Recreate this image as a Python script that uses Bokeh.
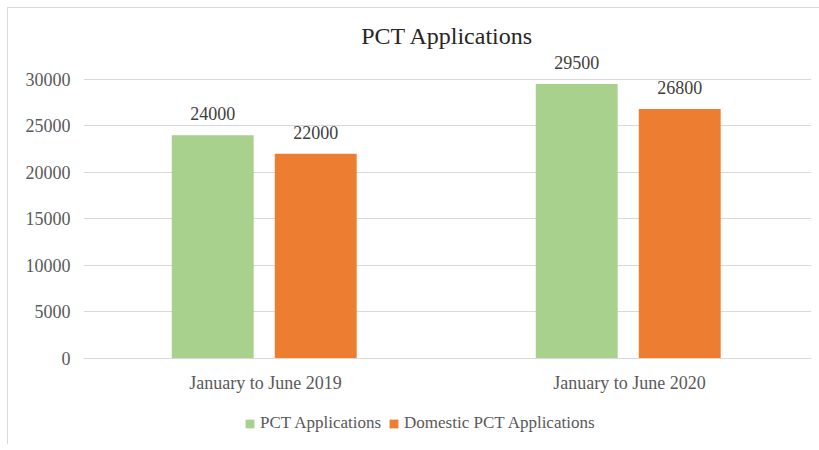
from bokeh.plotting import figure
from bokeh.layouts import column
from bokeh.models import ColumnDataSource, FactorRange, Range1d, LabelSet, Legend, LegendItem, SingleIntervalTicker
from bokeh.transform import dodge
from bokeh.embed import file_html
from bokeh.resources import INLINE

periods = ["January to June 2019", "January to June 2020"]
pct_applications = [24000, 29500]
domestic_pct_applications = [22000, 26800]
series_names = ["PCT Applications", "Domestic PCT Applications"]
series_colors = ["#a9d18e", "#ed7d31"]

FONT = "Liberation Serif"
LINE = "linear-gradient(#d9d9d9,#d9d9d9)"

src = ColumnDataSource(dict(
    period=periods,
    pct=pct_applications,
    dom=domestic_pct_applications,
    pct_lbl=[str(v) for v in pct_applications],
    dom_lbl=[str(v) for v in domestic_pct_applications],
))

p = figure(frame_width=728, frame_height=309, x_range=FactorRange(*periods, range_padding=0),
           y_range=Range1d(0, 33200), output_backend="svg", toolbar_location=None,
           min_border_left=83, min_border_right=8, min_border_top=49, min_border_bottom=42)
p.outline_line_color = None
p.border_fill_color = None
p.background_fill_color = None
p.styles = {"background": f"{LINE} 7px 7px / 1px 100% no-repeat, {LINE} 7px 7px / 100% 1px no-repeat, white"}

p.title.text = "PCT Applications"
p.title.text_font = FONT
p.title.text_font_size = "24px"
p.title.text_font_style = "normal"
p.title.text_color = "#262626"
p.title.align = "center"
p.title.standoff = 1

r1 = p.vbar(x=dodge("period", -0.145, range=p.x_range), top="pct", width=0.225, source=src,
            fill_color=series_colors[0], line_color=None)
r2 = p.vbar(x=dodge("period", 0.138, range=p.x_range), top="dom", width=0.225, source=src,
            fill_color=series_colors[1], line_color=None)

for col, lbl, off in [("pct", "pct_lbl", -0.145), ("dom", "dom_lbl", 0.138)]:
    p.add_layout(LabelSet(x=dodge("period", off, range=p.x_range), y=col, text=lbl, source=src,
                          text_align="center", text_baseline="bottom", y_offset=15,
                          text_font=FONT, text_font_size="18px", text_color="#404040"))

p.yaxis.ticker = SingleIntervalTicker(interval=5000)
p.yaxis.axis_line_color = None
p.yaxis.major_tick_line_color = None
p.yaxis.minor_tick_line_color = None
p.yaxis.major_label_text_font = FONT
p.yaxis.major_label_text_font_size = "18px"
p.yaxis.major_label_text_color = "#595959"
p.yaxis.major_label_standoff = 7

p.xaxis.axis_line_color = "#d9d9d9"
p.xaxis.major_tick_line_color = None
p.xaxis.major_label_text_font = FONT
p.xaxis.major_label_text_font_size = "18px"
p.xaxis.major_label_text_color = "#595959"
p.xaxis.major_label_standoff = 8

p.xgrid.grid_line_color = None
p.ygrid.grid_line_color = "#d9d9d9"
p.ygrid.grid_line_width = 1

# legend strip below the chart
lf = figure(width=819, height=44, output_backend="svg", toolbar_location=None,
            min_border_left=0, min_border_right=0, min_border_top=0, min_border_bottom=0,
            x_range=Range1d(0, 1), y_range=Range1d(0, 1))
lf.axis.visible = False
lf.grid.visible = False
lf.outline_line_color = None
lf.border_fill_color = None
lf.background_fill_color = None
lf.styles = {"background": f"{LINE} 7px 0px / 1px 100% no-repeat, white"}
# zero-height proxy bars that only provide the legend swatches
proxy = ColumnDataSource(dict(x=[0.5], top=[0]))
d1 = lf.vbar(x="x", top="top", width=0.01, source=proxy, fill_color=series_colors[0], line_color=None)
d2 = lf.vbar(x="x", top="top", width=0.01, source=proxy, fill_color=series_colors[1], line_color=None)
legend = Legend(items=[LegendItem(label=series_names[0], renderers=[d1]),
                       LegendItem(label=series_names[1], renderers=[d2])],
                orientation="horizontal", location=(161, 11),
                label_text_font=FONT, label_text_font_size="17px", label_text_color="#595959",
                glyph_width=11, glyph_height=11, label_standoff=5, spacing=7,
                border_line_color=None, background_fill_alpha=0, padding=4, margin=0)
lf.add_layout(legend)

layout = column(p, lf, spacing=0)
open("out.html", "w").write(file_html(layout, INLINE))
